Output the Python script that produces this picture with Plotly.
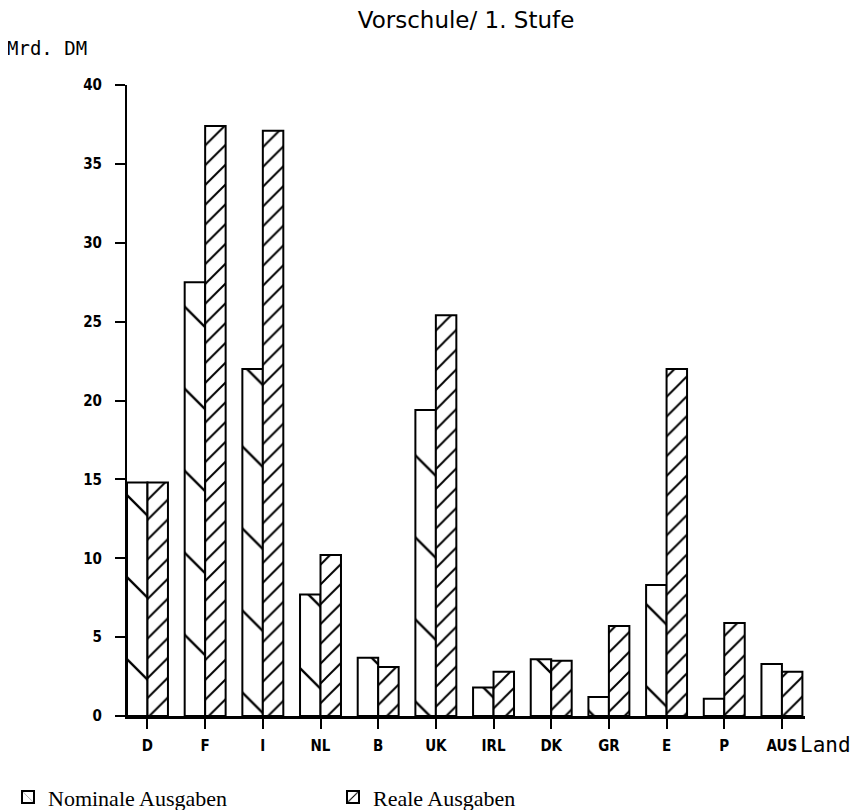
import plotly.graph_objects as go

laender = ["D", "F", "I", "NL", "B", "UK", "IRL", "DK", "GR", "E", "P", "AUS"]
nominal = [14.8, 27.5, 22.0, 7.7, 3.7, 19.4, 1.8, 3.6, 1.2, 8.3, 1.1, 3.3]
real = [14.8, 37.4, 37.1, 10.2, 3.1, 25.4, 2.8, 3.5, 5.7, 22.0, 5.9, 2.8]
y_ticks = [0, 5, 10, 15, 20, 25, 30, 35, 40]

cond = "Liberation Sans Narrow, DejaVu Sans Condensed, Arial Narrow, sans-serif"
tick_font = dict(family=cond, size=15, color="black", weight="bold")

fig = go.Figure()
fig.add_trace(go.Bar(
    x=laender, y=nominal, name="Nominale Ausgaben",
    marker=dict(color="white", line=dict(color="black", width=2),
                pattern=dict(shape="\\", size=58, solidity=0.04, fgopacity=1,
                             fgcolor="black", bgcolor="white", fillmode="overlay")),
))
fig.add_trace(go.Bar(
    x=laender, y=real, name="Reale Ausgaben",
    marker=dict(color="white", line=dict(color="black", width=2),
                pattern=dict(shape="/", size=14, solidity=0.14, fgopacity=1,
                             fgcolor="black", bgcolor="white", fillmode="overlay")),
))

fig.update_layout(
    width=855, height=802,
    paper_bgcolor="white", plot_bgcolor="white",
    margin=dict(l=119, r=58, t=77, b=94),
    barmode="group", bargap=0.29, bargroupgap=0,
    title=dict(text="Vorschule/ 1. Stufe", x=0.5, xref="paper", xanchor="center",
               y=0.985, yanchor="middle",
               font=dict(family="DejaVu Sans, sans-serif", size=23, color="black")),
    showlegend=True,
    legend=dict(orientation="h", xref="container", yref="container",
                x=0.0, xanchor="left", y=0.016, yanchor="middle",
                font=dict(family="Liberation Serif, Times New Roman, serif", size=22, color="black"),
                itemwidth=30, entrywidth=280, entrywidthmode="pixels",
                bgcolor="rgba(0,0,0,0)", traceorder="normal"),
    xaxis=dict(type="category", range=[-0.355, 11.4], showline=True,
               linecolor="black", linewidth=3, ticks="outside", ticklen=10,
               tickwidth=1.5, tickcolor="black", showgrid=False, zeroline=False,
               tickfont=tick_font, ticklabelstandoff=4),
    yaxis=dict(range=[0, 40], tickvals=y_ticks, showline=True, linecolor="black",
               linewidth=2, ticks="outside", ticklen=10, tickwidth=2,
               tickcolor="black", showgrid=False, zeroline=False,
               tickfont=tick_font, ticklabelstandoff=10),
    annotations=[
        dict(text="Mrd. DM", xref="paper", yref="paper", x=-0.18, y=1.0586,
             xanchor="left", yanchor="middle", showarrow=False,
             font=dict(family="DejaVu Sans Mono, monospace", size=19, color="black")),
        dict(text="Land", xref="paper", yref="paper", x=1.03, y=-0.046,
             xanchor="center", yanchor="middle", showarrow=False,
             font=dict(family="DejaVu Sans Mono, monospace", size=21, color="black")),
    ],
)

fig.write_html("out.html")
